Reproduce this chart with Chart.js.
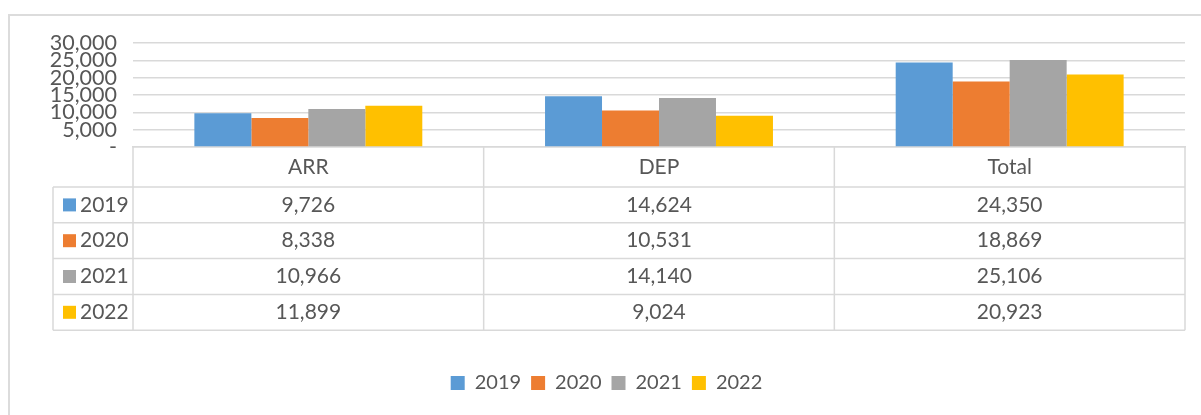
<!DOCTYPE html>
<html>
<head>
<meta charset="utf-8">
<script src="https://cdn.jsdelivr.net/npm/chart.js@4"></script>
<style>
  body { margin: 0; background: #fff; }
  #wrap { position: relative; width: 1201px; height: 415px; overflow: hidden; }
  #frame { position: absolute; left: 8px; top: 14px; width: 1300px; height: 500px; border: 2px solid #dcdcdc; }
  #chart { position: absolute; left: 0; top: 0; }
</style>
</head>
<body>
<div id="wrap">
  <div id="frame"></div>
  <canvas id="chart" width="1201" height="415"></canvas>
</div>
<script>
var categories = ['ARR', 'DEP', 'Total'];
var years = ['2019', '2020', '2021', '2022'];
var values2019 = [9726, 14624, 24350];
var values2020 = [8338, 10531, 18869];
var values2021 = [10966, 14140, 25106];
var values2022 = [11899, 9024, 20923];
var yTicks = [0, 5000, 10000, 15000, 20000, 25000, 30000];

var colors = ['#5B9BD5', '#ED7D31', '#A5A5A5', '#FFC000'];
var textColor = '#575757';
var lineColor = '#d9d9d9';
var fontFamily = 'Lato, "Open Sans", sans-serif';

function fmt(v) {
    return v === 0 ? '-' : v.toLocaleString('en-US');
}

// data table under the bars, drawn from the same arrays
var dataTable = {
    id: 'dataTable',
    afterDraw: function(chart) {
        var ctx = chart.ctx;
        var x = chart.scales.x;
        var top = chart.chartArea.bottom;
        var left = 53;
        var headerH = 40;
        var rowH = 35.8;
        var colW = x.width / categories.length;
        var bottom = top + headerH + rowH * years.length;

        ctx.save();
        ctx.strokeStyle = lineColor;
        ctx.lineWidth = 1.5;
        ctx.beginPath();
        // horizontal lines
        for (var r = 0; r <= years.length; r++) {
            var y = top + headerH + r * rowH;
            ctx.moveTo(left, y);
            ctx.lineTo(x.right, y);
        }
        // vertical lines
        ctx.moveTo(left, top + headerH);
        ctx.lineTo(left, bottom);
        for (var c = 0; c <= categories.length; c++) {
            var cx = x.left + c * colW;
            ctx.moveTo(cx, top);
            ctx.lineTo(cx, bottom);
        }
        ctx.stroke();

        ctx.fillStyle = textColor;
        ctx.font = '21px ' + fontFamily;
        ctx.textAlign = 'center';
        ctx.textBaseline = 'middle';
        categories.forEach(function(cat, i) {
            ctx.fillText(cat, x.getPixelForValue(i), top + headerH / 2);
        });

        chart.data.datasets.forEach(function(ds, r) {
            var cy = top + headerH + r * rowH + rowH / 2;
            ctx.fillStyle = ds.backgroundColor;
            ctx.fillRect(63, cy - 6.5, 13, 13);
            ctx.fillStyle = textColor;
            ctx.textAlign = 'left';
            ctx.fillText(ds.label, 80, cy);
            ctx.textAlign = 'center';
            ds.data.forEach(function(v, i) {
                ctx.fillText(fmt(v), x.getPixelForValue(i), cy);
            });
        });
        ctx.restore();
    }
};

var ctx = document.getElementById('chart').getContext('2d');
var chart = new Chart(ctx, {
    type: 'bar',
    data: {
        labels: categories,
        datasets: [
            { label: years[0], data: values2019, backgroundColor: colors[0] },
            { label: years[1], data: values2020, backgroundColor: colors[1] },
            { label: years[2], data: values2021, backgroundColor: colors[2] },
            { label: years[3], data: values2022, backgroundColor: colors[3] }
        ]
    },
    options: {
        responsive: false,
        animation: false,
        devicePixelRatio: 1,
        datasets: {
            bar: { barPercentage: 1, categoryPercentage: 0.65 }
        },
        layout: {
            padding: { top: 43, left: 28, right: 16, bottom: 12 }
        },
        scales: {
            x: {
                ticks: { display: false },
                grid: { display: false },
                border: { display: true, color: lineColor, width: 1.5 },
                afterFit: function(scale) { scale.height = 216; }
            },
            y: {
                min: 0,
                max: 30000,
                afterBuildTicks: function(scale) {
                    scale.ticks = yTicks.map(function(v) { return { value: v }; });
                },
                ticks: {
                    autoSkip: false,
                    padding: 16,
                    color: textColor,
                    font: { family: fontFamily, size: 21.5, lineHeight: 1 },
                    callback: function(v) { return fmt(v); }
                },
                grid: { color: lineColor, lineWidth: 1.5, drawTicks: false },
                border: { display: false },
                afterFit: function(scale) { scale.width = 105; }
            }
        },
        plugins: {
            legend: {
                position: 'bottom',
                labels: {
                    boxWidth: 14,
                    boxHeight: 14,
                    padding: 10,
                    color: textColor,
                    font: { family: fontFamily, size: 20 }
                }
            },
            tooltip: { enabled: false }
        }
    },
    plugins: [dataTable]
});
</script>
</body>
</html>
